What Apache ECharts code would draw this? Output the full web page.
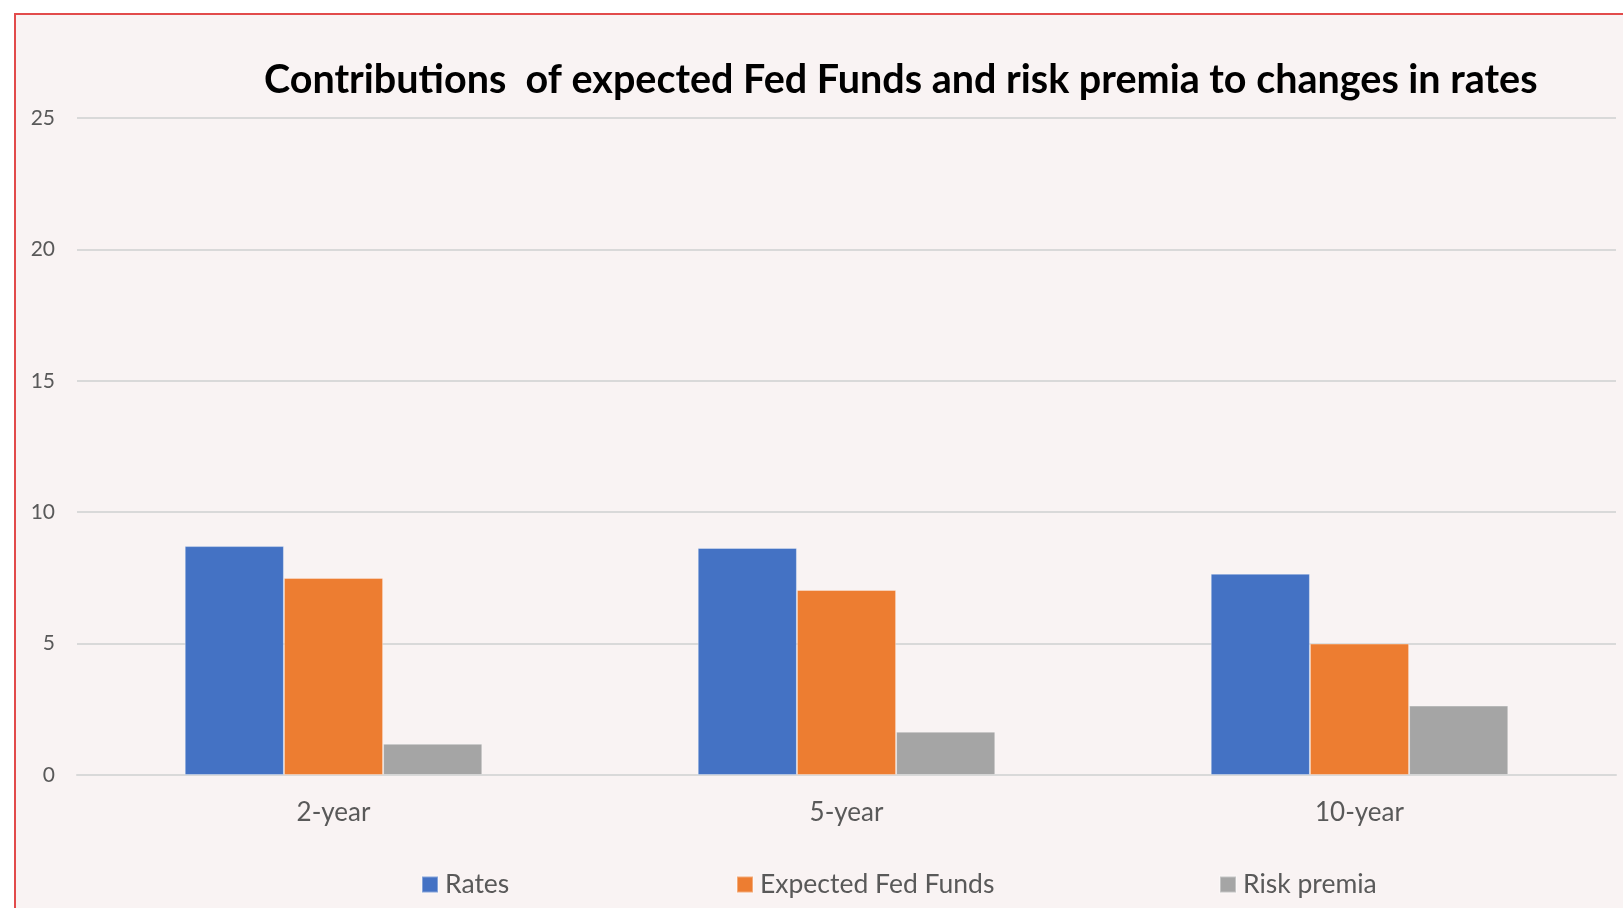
<!DOCTYPE html>
<html>
<head>
<meta charset="utf-8">
<script src="https://cdn.jsdelivr.net/npm/echarts@6/dist/echarts.min.js"></script>
<style>
html,body{margin:0;padding:0;background:#ffffff;}
#chart{width:1623px;height:908px;}
</style>
</head>
<body>
<div id="chart"></div>
<script>
var titleText = 'Contributions  of expected Fed Funds and risk premia to changes in rates';
var categories = ['2-year', '5-year', '10-year'];
var seriesNames = ['Rates', 'Expected Fed Funds', 'Risk premia'];
var rates = [8.71, 8.64, 7.66];
var expectedFedFunds = [7.50, 7.04, 5.00];
var riskPremia = [1.19, 1.65, 2.64];
var yTicks = [0, 5, 10, 15, 20, 25];

var colors = ['#4472c4', '#ed7d31', '#a5a5a5'];
var fontFam = 'Lato, "Open Sans", sans-serif';
var legendLefts = [416, 731, 1214];

var chart = echarts.init(document.getElementById('chart'), null, {renderer: 'canvas'});
var values = [rates, expectedFedFunds, riskPremia];

var legends = seriesNames.map(function (n, i) {
  return {
    data: [n],
    left: legendLefts[i],
    top: 866,
    itemWidth: 16,
    itemHeight: 16,
    itemGap: 8,
    icon: 'rect',
    textStyle: {color: '#595959', fontSize: 26.5, fontFamily: fontFam, padding: [0, 0, 0, 2]},
    selectedMode: false
  };
});

chart.setOption({
  animation: false,
  backgroundColor: 'transparent',
  color: colors,
  graphic: [{
    type: 'rect',
    z: -10,
    silent: true,
    shape: {x: 15, y: 14, width: 1700, height: 1000},
    style: {fill: '#f9f3f3', stroke: '#e24b4b', lineWidth: 2}
  }],
  title: {
    text: titleText,
    left: 259,
    top: 55,
    textStyle: {color: '#000000', fontSize: 39.5, fontWeight: 'bold', fontFamily: fontFam}
  },
  legend: legends,
  grid: {left: 77, right: 7, top: 118, bottom: 133},
  xAxis: {
    type: 'category',
    data: categories,
    axisLine: {show: true, lineStyle: {color: '#d9d9d9', width: 2}},
    axisTick: {show: false},
    axisLabel: {color: '#595959', fontSize: 26, fontFamily: fontFam, margin: 25}
  },
  yAxis: {
    type: 'value',
    min: yTicks[0],
    max: yTicks[yTicks.length - 1],
    interval: yTicks[1] - yTicks[0],
    axisLine: {show: false},
    axisTick: {show: false},
    splitLine: {lineStyle: {color: '#d9d9d9', width: 2}},
    axisLabel: {color: '#595959', fontSize: 21, fontFamily: fontFam, margin: 22}
  },
  series: seriesNames.map(function (n, i) {
    return {
      name: n,
      type: 'bar',
      data: values[i],
      barGap: '0%',
      barCategoryGap: '42%',
      itemStyle: {color: colors[i], borderColor: 'rgba(255,255,255,0.35)', borderWidth: 1}
    };
  })
});
</script>
</body>
</html>
